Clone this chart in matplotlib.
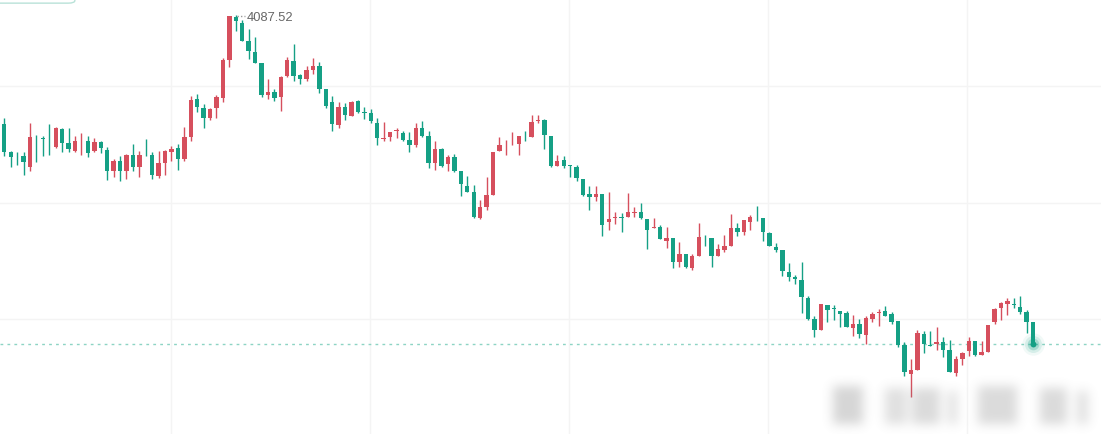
import matplotlib
matplotlib.use("Agg")
from matplotlib import pyplot as plt
import matplotlib.patches as mpatches
import numpy as np

# daily candles, oldest first (index price)
opens = [3987, 3979, 3951.3, 3947, 3946.7, 3936.3, 3965, 3965.3, 3958, 3955.7,
         3974, 3959.7, 3952.3, 3961.5, 3962, 3951.7, 3961, 3953.3, 3932.3, 3942,
         3932.3, 3948, 3935.7, 3948, 3948, 3927.3, 3940, 3951.3, 3955, 3944,
         3966.3, 4004, 3995, 3985, 3995, 4004.7, 4043.3, 4086.3, 4080, 4061.7,
         4050.7, 4040, 4008.3, 4011, 4006.3, 4027.3, 4041.7, 4028, 4024, 4033,
         4036.7, 4014, 4000.7, 3978.3, 3995.7, 3987.3, 4001.7, 3990.3, 3989.7, 3979.7,
         3964.3, 3965.7, 3972, 3969.7, 3963, 3958.3, 3975, 3966.7, 3940, 3954,
         3939, 3945.7, 3931.7, 3917, 3911.3, 3885, 3895.7, 3908, 3952.3, 3957.5,
         3958.5, 3959, 3967, 3965.7, 3982, 3983.3, 3966.7, 3937.3, 3943, 3937.5,
         3936.3, 3924, 3909, 3906.3, 3909, 3881.3, 3885.3, 3886, 3885.7, 3890.3,
         3891.3, 3884, 3875.3, 3875.7, 3862.3, 3865, 3840.7, 3849, 3835, 3847.3,
         3866, 3864.7, 3847.3, 3852.7, 3857.3, 3874.7, 3871.3, 3881.3, 3886, 3884.7,
         3870, 3856.3, 3853, 3830.7, 3826.3, 3823, 3805, 3784, 3773.3, 3798,
         3794.3, 3792.3, 3790, 3775, 3779, 3768, 3784, 3789.7, 3792.3, 3789,
         3782, 3758, 3729, 3733.3, 3769, 3757.5, 3759, 3761.3, 3753, 3730,
         3744, 3752.3, 3761.7, 3748, 3751.3, 3780.7, 3795, 3799, 3798.5, 3795.7,
         3790.7, 3780.7]
highs = [3989, 3984.7, 3952.3, 3950.7, 3950.7, 3980, 3968, 3966.7, 3979, 3975.7,
         3975, 3975, 3966.7, 3970, 3966.7, 3965, 3961.7, 3956.3, 3944, 3947.3,
         3949, 3959, 3952.3, 3964.3, 3950.7, 3952.3, 3953.3, 3956.7, 3959.3, 3975.7,
         4007, 4009, 3999, 3995, 4008.3, 4045, 4087.3, 4087.52, 4083, 4074,
         4065.7, 4040, 4024, 4014, 4027.3, 4045.7, 4059, 4029, 4037.3, 4045,
         4040.7, 4014, 4006.7, 4000.7, 3999.7, 4001.7, 4003, 3995.7, 3994, 3984.7,
         3980.7, 3970.7, 3975, 3971.7, 3971.3, 3979.7, 3981.7, 3971.7, 3961.7, 3955,
         3948, 3949, 3931.7, 3927, 3918, 3903, 3925.7, 3950.7, 3965.7, 3963,
         3970.7, 3967.3, 3972.3, 3988, 3988.3, 3984, 3966.7, 3948, 3946.7, 3937.5,
         3938.3, 3924, 3917.3, 3917.3, 3909, 3910.7, 3891.3, 3889.7, 3909.7, 3895.7,
         3900, 3884, 3885, 3878.3, 3875.7, 3865, 3860.7, 3849, 3849, 3879.7,
         3868.3, 3864.7, 3859, 3868, 3889, 3880, 3883, 3888, 3896.7, 3884.7,
         3870.7, 3859.7, 3853, 3840, 3828, 3841.3, 3806.7, 3786.7, 3799, 3798,
         3798, 3792.3, 3792.3, 3788, 3784, 3786.7, 3790.7, 3794, 3796.7, 3791.3,
         3782.3, 3760.7, 3744, 3773.3, 3772.3, 3771.7, 3775.7, 3766.3, 3763.3, 3747.3,
         3750.7, 3765.7, 3762.3, 3762.3, 3778, 3795, 3800.7, 3804.7, 3804.7, 3806.7,
         3793.3, 3780.7]
lows = [3977, 3947.3, 3936.3, 3938, 3928.3, 3932.3, 3941.3, 3947.3, 3948.3, 3954.7,
        3950.7, 3950.7, 3951.3, 3948.3, 3946.3, 3950.7, 3950.3, 3923.3, 3925.7, 3922.3,
        3923.7, 3932.3, 3926, 3947.3, 3924.3, 3925, 3927.7, 3941.7, 3933.3, 3942,
        3962.3, 3990.7, 3975, 3983, 3985, 4001.3, 4035.7, 4071.7, 4061.7, 4044,
        4039.7, 4005.7, 4004, 4002.3, 3992.3, 4025.7, 4022.3, 4019, 4021.7, 4029,
        4009.7, 3995, 3972.3, 3975, 3983, 3987.3, 3989.7, 3984, 3979.7, 3958.3,
        3962.3, 3961.7, 3965, 3961.7, 3950.7, 3956.3, 3965.7, 3934.7, 3933, 3935.7,
        3931.7, 3930.7, 3907.3, 3911.3, 3885, 3884, 3893, 3908, 3952.3, 3948.3,
        3958.3, 3948.3, 3962.3, 3965.7, 3979.7, 3954, 3936.3, 3937.3, 3935, 3926.3,
        3921.7, 3907.3, 3893, 3902.3, 3866.7, 3873, 3879, 3870.7, 3885.7, 3886.3,
        3884, 3854, 3875, 3864, 3855, 3835, 3835.7, 3835, 3833.3, 3847.3,
        3857.3, 3835.7, 3847.3, 3850.7, 3857.3, 3866.7, 3868, 3873.3, 3882.3, 3862.3,
        3856.7, 3850.7, 3826.7, 3822.3, 3819, 3789.7, 3783.3, 3765.7, 3773.3, 3780.7,
        3783.3, 3775.7, 3775.7, 3766.7, 3764.7, 3759, 3781.3, 3777.3, 3786.7, 3779,
        3756, 3726.7, 3706, 3733.3, 3750, 3756.7, 3753.3, 3745.7, 3730.7, 3726.7,
        3738, 3747.3, 3746.7, 3748, 3751.3, 3779, 3783.3, 3788, 3795, 3789,
        3770, 3757.3]
closes = [3979, 3951.3, 3946.3, 3946.5, 3941.3, 3966.3, 3964.5, 3963.7, 3957.5, 3975,
          3960.3, 3954.3, 3962, 3962, 3950, 3961, 3954.7, 3932.3, 3942, 3932.3,
          3948, 3935.7, 3948, 3947.5, 3928, 3940, 3951.7, 3954.3, 3944, 3966.3,
          4003.3, 3996.3, 3985, 3994, 4006.3, 4043.3, 4087.3, 4081.7, 4062.3, 4051.7,
          4040, 4008.3, 4011, 4005.3, 4026.3, 4043, 4027.3, 4024, 4033, 4037.3,
          4014, 3997.3, 3979, 3995.7, 3988.3, 4000.7, 3990.7, 3989.7, 3981.7, 3964.7,
          3965, 3970.7, 3972.5, 3963.3, 3958.3, 3975, 3966.7, 3940, 3954, 3937.3,
          3945.7, 3931.7, 3919, 3911.3, 3885.7, 3895.7, 3908, 3950.7, 3958, 3958,
          3959, 3967.3, 3966.5, 3980.7, 3982.5, 3968.3, 3937.3, 3942.3, 3936.7, 3937,
          3925, 3908.3, 3906.3, 3909, 3878.3, 3884, 3885.7, 3885.3, 3891.3, 3890.7,
          3885, 3873, 3875.7, 3864, 3865, 3841.3, 3849, 3835.7, 3847.3, 3866.3,
          3865.5, 3847.3, 3854, 3857.3, 3874.7, 3871.3, 3883, 3885.7, 3885.5, 3870.7,
          3856.7, 3853.3, 3832.3, 3826.3, 3824, 3805.7, 3784, 3773.3, 3799, 3793.3,
          3793.7, 3789, 3775.7, 3779, 3769, 3784.7, 3789, 3790, 3787.3, 3781.3,
          3758.3, 3730.7, 3733, 3770, 3759, 3757, 3760.7, 3753.3, 3730.7, 3744,
          3749.7, 3761.7, 3748, 3750.7, 3778, 3794, 3800, 3802.3, 3798, 3790.7,
          3781.3, 3759]

up_color = '#d64f5d'
down_color = '#15a085'

o = np.array(opens)
h = np.array(highs)
l = np.array(lows)
c = np.array(closes)
idx = np.arange(len(o))
colors = np.where(c >= o, up_color, down_color)

fig = plt.figure(figsize=(11.01, 4.35), dpi=100)
ax = fig.add_axes([0, 0, 1, 1])
ax.set_xlim(0.331, 171.56)
ax.set_ylim(3669, 4104)

# faint grid
for gx in np.arange(26.93, 171, 30.94):
    ax.axvline(gx, color='#f4f4f4', lw=1, zorder=0)
for gy in [4017, 3900, 3784]:
    ax.axhline(gy, color='#f4f4f4', lw=1, zorder=0)

# candles
ax.vlines(idx, l, h, colors=colors, lw=1, zorder=2)
body = np.maximum(np.abs(c - o), 0.9)
ax.bar(idx, body, bottom=np.minimum(o, c), width=0.68, color=colors,
       linewidth=0, zorder=3)

# last price line + pulse dot
last = c[-1]
ax.axhline(last, color='#8dd4c4', lw=1, ls=(0, (2, 3)), zorder=1)
for s, a in [(260, 0.06), (150, 0.12), (70, 0.25), (18, 1.0)]:
    ax.scatter(idx[-1], last, s=s, color=down_color, alpha=a, lw=0, zorder=4)

# max high marker
imax = int(np.argmax(h))
ax.plot([imax + 0.15, imax + 1.5], [h[imax] - 1, h[imax] - 1], ls=(0, (1, 1.5)),
        color='#9a9a9a', lw=1, zorder=4)
ax.text(imax + 1.75, h[imax] - 1.5, f"{h[imax]:.2f}", fontsize=9.3,
        family='Liberation Sans', color='#666666', ha='left', va='center')

ax.axis('off')

# tooltip box corner at top-left
box = mpatches.FancyBboxPatch((-0.02, 0.9905), 0.088, 0.08,
                              boxstyle="round,pad=0,rounding_size=0.006",
                              transform=fig.transFigure, fc='white',
                              ec='#b9e2d8', lw=1)
fig.add_artist(box)

# blurred watermark, bottom right
wm = np.zeros((65, 280))
for x0, x1, y0, y1, v in [(13, 43, 17, 55, 0.8), (65, 87, 19, 55, 0.6),
                          (92, 120, 19, 55, 0.7), (128, 137, 22, 55, 0.6),
                          (158, 197, 17, 55, 0.7), (220, 247, 19, 55, 0.7),
                          (257, 268, 22, 55, 0.6)]:
    wm[y0:y1, x0:x1] = v
k = np.ones(9) / 9
for _ in range(4):
    wm = np.apply_along_axis(lambda r: np.convolve(r, k, mode='same'), 1, wm)
    wm = np.apply_along_axis(lambda r: np.convolve(r, k, mode='same'), 0, wm)
rgba = np.zeros((65, 280, 4))
rgba[..., :3] = 0.5
rgba[..., 3] = wm * 0.4
fig.figimage(rgba, xo=820, yo=0, origin='upper', zorder=5)

fig.savefig('out.png', dpi=100)
